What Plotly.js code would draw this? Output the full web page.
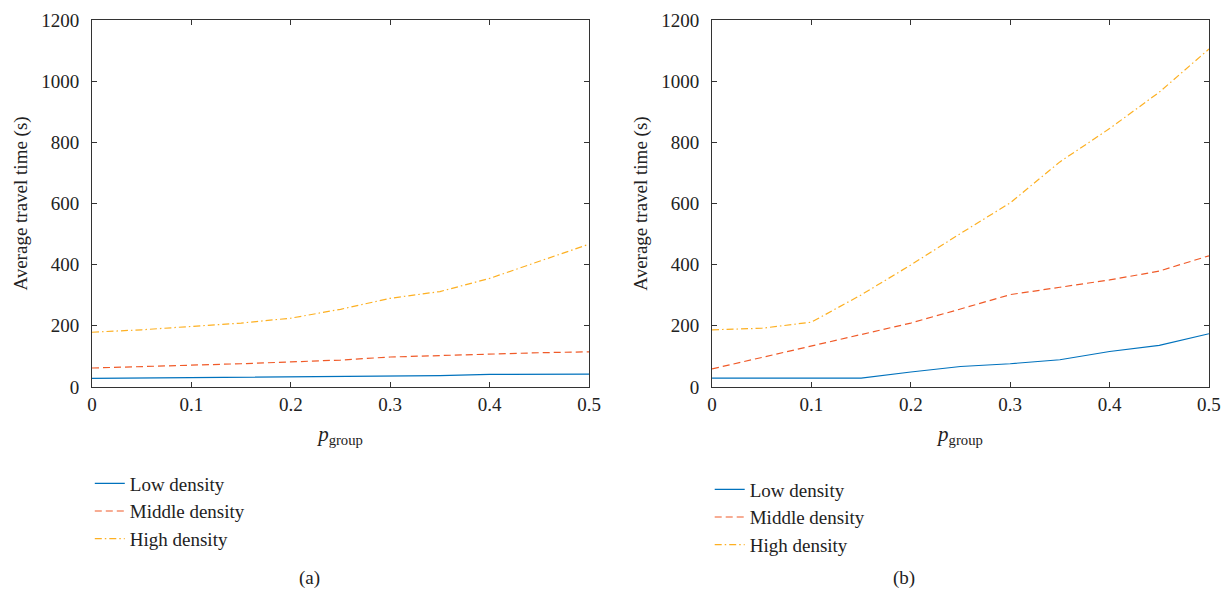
<!DOCTYPE html>
<html>
<head>
<meta charset="utf-8">
<script src="https://cdn.plot.ly/plotly-3.0.1.min.js"></script>
<style>html,body{margin:0;padding:0;background:#fff;}#chart{width:1230px;height:597px;}</style>
</head>
<body>
<div id="chart"></div>
<script>
const pGroup = [0, 0.05, 0.1, 0.15, 0.2, 0.25, 0.3, 0.35, 0.4, 0.45, 0.5];
const seriesNames = ['Low density', 'Middle density', 'High density'];
// Panel (a)
const lowA    = [28, 29, 30, 32, 34, 34, 35, 37, 41, 41, 42];
const middleA = [62, 66, 71, 76, 82, 88, 98, 103, 109, 112, 115];
const highA   = [179, 187, 198, 209, 225, 254, 290, 312, 355, 410, 467];
// Panel (b)
const lowB    = [29, 29, 29, 29, 49, 67, 76, 89, 116, 136, 174];
const middleB = [59, 97, 135, 171, 209, 255, 302, 326, 350, 379, 429];
const highB   = [187, 192, 212, 301, 399, 502, 602, 736, 845, 964, 1105];
const yTicks = [0, 200, 400, 600, 800, 1000, 1200];
const xTicks = [0, 0.1, 0.2, 0.3, 0.4, 0.5];
const panelLabels = ['(a)', '(b)'];

const colors = ['#0072BD', '#F05A28', '#FDB022'];
const dashes = ['solid', '7px,4px', '7px,3px,1.5px,3px'];
const FONT = 'Liberation Serif, DejaVu Serif, serif';

function mk(y, i, xa, ya, leg) {
  return {
    x: pGroup, y: y, type: 'scatter', mode: 'lines', name: seriesNames[i],
    xaxis: xa, yaxis: ya, legend: leg, legendgroup: leg + i,
    line: {color: colors[i], dash: dashes[i], width: 1.2}
  };
}
const data = [
  mk(lowA, 0, 'x', 'y', 'legend'), mk(middleA, 1, 'x', 'y', 'legend'), mk(highA, 2, 'x', 'y', 'legend'),
  mk(lowB, 0, 'x2', 'y2', 'legend2'), mk(middleB, 1, 'x2', 'y2', 'legend2'), mk(highB, 2, 'x2', 'y2', 'legend2')
];

function xax(dom, anchor) {
  return {
    domain: dom, anchor: anchor, range: [0, 0.5], tickvals: xTicks,
    ticktext: xTicks.map(v => String(v)),
    ticks: 'inside', ticklen: 5, tickcolor: '#333', mirror: 'ticks',
    showline: true, linecolor: '#333', linewidth: 1, showgrid: false, zeroline: false,
    tickfont: {family: FONT, size: 19, color: '#222'}, ticklabelstandoff: 0,
    title: {text: '<i>p</i><sub>group</sub>', font: {family: FONT, size: 21, color: '#222'}, standoff: 12}
  };
}
function yax(anchor) {
  return {
    domain: [0.3518, 0.9665], anchor: anchor, range: [0, 1200], tickvals: yTicks,
    ticks: 'inside', ticklen: 5, tickcolor: '#333', mirror: 'ticks',
    showline: true, linecolor: '#333', linewidth: 1, showgrid: false, zeroline: false,
    tickfont: {family: FONT, size: 19, color: '#222'}, ticklabelstandoff: 8,
    title: {text: 'Average travel time (s)', font: {family: FONT, size: 19, color: '#222'}, standoff: 8}
  };
}
function leg(xp, yp) {
  return {
    x: xp, y: yp, xref: 'paper', yref: 'paper', xanchor: 'left', yanchor: 'top',
    font: {family: FONT, size: 19, color: '#222'}, bgcolor: 'rgba(0,0,0,0)',
    traceorder: 'grouped', tracegroupgap: 0, itemwidth: 30
  };
}

const layout = {
  width: 1230, height: 597, margin: {l: 0, r: 0, t: 0, b: 0},
  paper_bgcolor: '#fff', plot_bgcolor: '#fff', showlegend: true,
  xaxis: xax([0.0748, 0.4789], 'y'), yaxis: yax('x'),
  xaxis2: xax([0.5789, 0.9829], 'y2'), yaxis2: yax('x2'),
  legend: leg(0.073, 0.222),
  legend2: leg(0.577, 0.212),
  annotations: [
    {text: panelLabels[0], x: 0.2415, y: 0.032, xref: 'paper', yref: 'paper', yanchor: 'middle', showarrow: false,
     font: {family: FONT, size: 19, color: '#222'}},
    {text: panelLabels[1], x: 0.7456, y: 0.032, xref: 'paper', yref: 'paper', yanchor: 'middle', showarrow: false,
     font: {family: FONT, size: 19, color: '#222'}}
  ]
};
Plotly.newPlot('chart', data, layout, {displayModeBar: false, staticPlot: true});
</script>
</body>
</html>
